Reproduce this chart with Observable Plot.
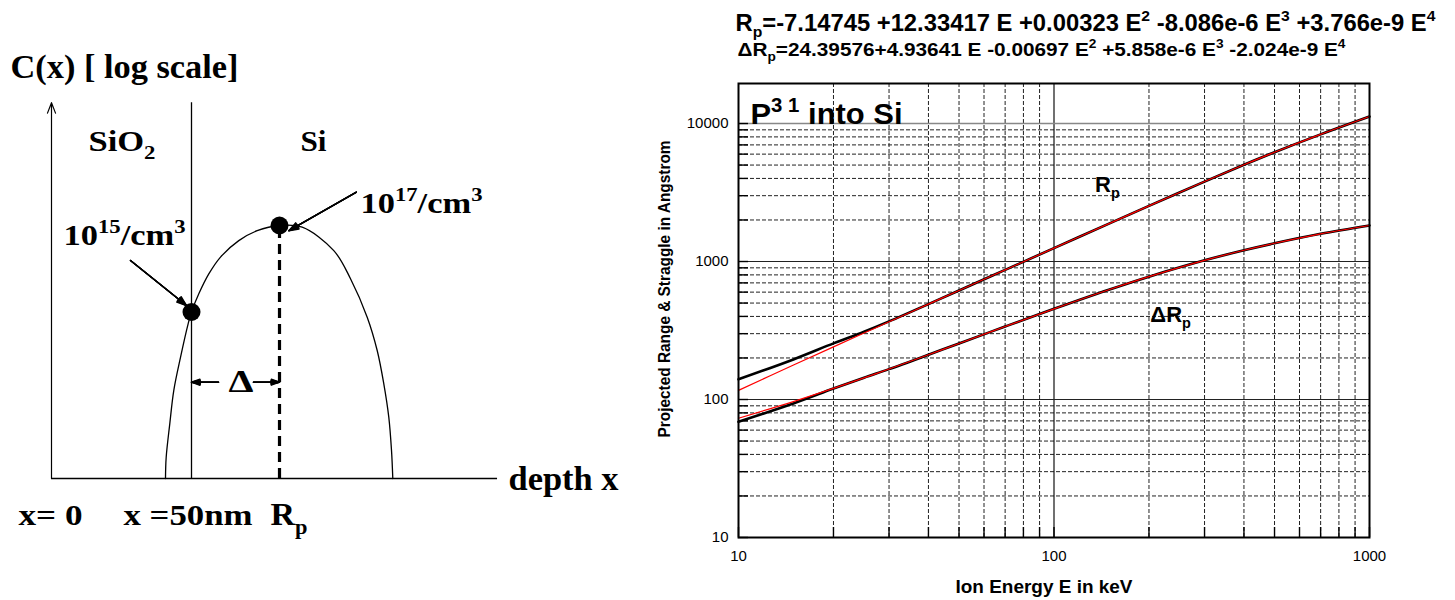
<!DOCTYPE html>
<html><head><meta charset="utf-8">
<script src="https://cdn.jsdelivr.net/npm/d3@7"></script>
<script src="https://cdn.jsdelivr.net/npm/@observablehq/plot@0.6"></script>
<style>
body{margin:0;background:#fff}
#wrap{position:relative;width:1455px;height:600px;overflow:hidden}
#left{position:absolute;left:0;top:0}
#right{position:absolute;left:640px;top:0}
</style>
</head><body>
<div id="wrap"><div id="left"></div><div id="right"></div></div>
<script>
// ================= LEFT: schematic implant profile =================
// depth in nm (x = 0 at surface, oxide/silicon interface at 50 nm), concentration as log10(C)
const profileDepth = [40.71, 40.96, 42.25, 43.68, 46.07, 48.82, 50.00, 52.61, 56.18, 60.36, 66.89, 73.46, 81.43, 89.54, 100.82, 106.79, 112.75, 116.32, 118.68, 120.46, 121.43, 121.89];
const profileLogC  = [11.15, 11.64, 12.42, 13.19, 13.95, 14.73, 15.00, 15.42, 15.88, 16.27, 16.65, 16.88, 17.00, 16.96, 16.42, 15.77, 14.88, 14.11, 13.34, 12.57, 11.80, 11.15];
const dotDepth = [50, 81.43];
const dotLogC = [15, 17];
const baseLogC = 11.15;
const topLogC = 19.84;
const axisEndDepth = 159.3;
const interfaceDepth = 50;
const rpDepth = 81.43;
const pointerFromDepth = [28.21, 108.9];
const pointerFromLogC  = [16.19, 17.77];
const pointerToDepth   = [48.21, 84.8];
const pointerToLogC    = [15.15, 16.88];
const deltaFromDepth = [59.64, 72.14];
const deltaToDepth   = [50, 81.43];
const deltaLogC = 13.377;
const diagramLabels = ["C(x) [ log scale]", "SiO_{2}", "Si", "10^{15}/cm^{3}", "10^{17}/cm^{3}", "depth x", "x= 0", "x =50nm", "R_{p}", "Δ"];
const labelDepth = [-14.64, 13.21, 88.93, 4.29, 110.36, 163.21, -11.79, 25.71, 78.21, 63.21];
const labelLogC  = [20.42, 18.73, 18.73, 16.54, 17.30, 10.873, 10.064, 10.064, 10.064, 13.139];

// ================= RIGHT: range / straggle vs energy =================
const energy = [10, 15, 20, 25, 30, 40, 50, 70, 100, 150, 200, 300, 400, 500, 700, 1000];
const rpSim  = [140, 196, 255, 310, 368, 491, 617, 869, 1251, 1890, 2530, 3796, 5022, 6192, 8340, 11237];
const rpFit  = [116.5, 178.6, 240.8, 303.1, 365.6, 490.9, 616.7, 869.4, 1250.9, 1890.3, 2530.2, 3796.0, 5022.2, 6192.1, 8340.2, 11237.0];
const drpSim = [69, 94, 120, 144, 166, 211, 255, 338, 454, 627, 777, 1020, 1207, 1356, 1588, 1825];
const drpFit = [73.1, 96.9, 120.4, 143.5, 166.4, 211.1, 254.5, 337.8, 454.0, 626.8, 776.5, 1019.8, 1206.9, 1355.9, 1587.9, 1824.8];
const xMajor = [10, 100, 1000];
const xMinor = [20, 30, 40, 50, 60, 70, 80, 90, 200, 300, 400, 500, 600, 700, 800, 900];
const yMajor = [10, 100, 1000, 10000];
const yMinor = [20, 30, 40, 50, 60, 70, 80, 90, 200, 300, 400, 500, 600, 700, 800, 900, 2000, 3000, 4000, 5000, 6000, 7000, 8000, 9000];
const title1 = "R_{p}=-7.14745 +12.33417 E +0.00323 E^{2} -8.086e-6 E^{3} +3.766e-9 E^{4}";
const title2 = "ΔR_{p}=24.39576+4.93641 E -0.00697 E^{2} +5.858e-6 E^{3} -2.024e-9 E^{4}";
const panelLabel = "P^{3 1} into Si";
const yLabel = "Projected Range & Straggle in Angstrom";
const xLabel = "Ion Energy E in keV";
const curveLabels = ["R_{p}", "ΔR_{p}"];
const curveLabelE = [135, 202];
const curveLabelV = [3190, 363];

// ---- styles (sizes in px) ----
const leftFont = {"C(x) [ log scale]": 33, "SiO_{2}": 30, "Si": 30, "10^{15}/cm^{3}": 30, "10^{17}/cm^{3}": 29,
  "depth x": 34, "x= 0": 30, "x =50nm": 30, "R_{p}": 32, "Δ": 32};
const fitWidth = {"C(x) [ log scale]": 228, "SiO_{2}": 67, "Si": 26, "10^{15}/cm^{3}": 122, "10^{17}/cm^{3}": 122,
  "depth x": 110, "x= 0": 64, "x =50nm": 129, "R_{p}": 37, "Δ": 25};
const fitWidthRight = {[title1]: 700, [title2]: 608, [panelLabel]: 152, [yLabel]: 297, [xLabel]: 177};

const idx = a => a.map((_, i) => i);
const headAngles = [40, 30, 20, 10];

const left = Plot.plot({
  width: 640, height: 600, margin: 0,
  x: {axis: null, domain: [0, 50], range: [51, 191]},
  y: {axis: null, domain: [15, 17], range: [311.5, 225]},
  style: {fontFamily: "'Liberation Serif','Times New Roman',serif", background: "white", overflow: "visible", color: "black"},
  marks: [
    Plot.ruleY([baseLogC], {x1: 0, x2: axisEndDepth, stroke: "black", strokeWidth: 1.3}),
    Plot.arrow([0], {x1: 0, y1: baseLogC, x2: 0, y2: topLogC, stroke: "black", strokeWidth: 1.2, headLength: 14, headAngle: 42}),
    Plot.ruleX([interfaceDepth], {y1: baseLogC, y2: topLogC, stroke: "black", strokeWidth: 1.3}),
    Plot.ruleX([rpDepth], {y1: baseLogC, y2: 17, stroke: "black", strokeWidth: 3.2, strokeDasharray: "10,6"}),
    Plot.line(idx(profileDepth), {x: profileDepth, y: profileLogC, curve: "catmull-rom", stroke: "black", strokeWidth: 1.3}),
    Plot.dot(idx(dotDepth), {x: dotDepth, y: dotLogC, r: 9, fill: "black"}),
    ...headAngles.map(a => Plot.arrow(idx(pointerFromDepth), {x1: pointerFromDepth, y1: pointerFromLogC, x2: pointerToDepth, y2: pointerToLogC,
      stroke: "black", strokeWidth: 1.4, headLength: 11, headAngle: a})),
    ...headAngles.map(a => Plot.arrow(idx(deltaFromDepth), {x1: deltaFromDepth, y1: deltaLogC, x2: deltaToDepth, y2: deltaLogC,
      stroke: "black", strokeWidth: 1.4, headLength: 10, headAngle: a})),
    Plot.text(idx(diagramLabels), {x: labelDepth, y: labelLogC, text: diagramLabels, fontSize: diagramLabels.map(l => leftFont[l]),
      textAnchor: "start", lineAnchor: "bottom", fontWeight: "bold", fill: "black"})
  ]
});

const right = Plot.plot({
  width: 815, height: 600, marginLeft: 98, marginRight: 86, marginTop: 83, marginBottom: 63,
  x: {type: "log", domain: [10, 1000]},
  y: {type: "log", domain: [10, 19500]},
  style: {fontFamily: "'Liberation Sans', Arial, sans-serif", fontSize: "14px", background: "white", overflow: "visible", color: "black"},
  marks: [
    Plot.ruleX(xMinor, {stroke: "#222", strokeDasharray: "4,2", strokeWidth: 1}),
    Plot.ruleY(yMinor, {stroke: "#222", strokeDasharray: "4,2", strokeWidth: 1}),
    Plot.ruleX([100], {stroke: "#111", strokeWidth: 1.2}),
    Plot.ruleY([100, 1000], {stroke: "#222", strokeWidth: 1.2}),
    Plot.ruleY([10000], {stroke: "#888", strokeWidth: 1.6}),
    Plot.ruleY(yMinor.concat(yMajor), {insetRight: 621, stroke: "black", strokeWidth: 1.4}),
    Plot.ruleX(xMinor.concat(xMajor), {insetTop: 444, stroke: "black", strokeWidth: 1.4}),
    Plot.line(energy, {x: energy, y: rpSim, stroke: "black", strokeWidth: 2.6, curve: "catmull-rom"}),
    Plot.line(energy, {x: energy, y: drpSim, stroke: "black", strokeWidth: 2.6, curve: "catmull-rom"}),
    Plot.line(energy, {x: energy, y: rpFit, stroke: "#ff0000", strokeWidth: 1.2, curve: "catmull-rom"}),
    Plot.line(energy, {x: energy, y: drpFit, stroke: "#ff0000", strokeWidth: 1.2, curve: "catmull-rom"}),
    Plot.frame({stroke: "black", strokeWidth: 2}),
    Plot.axisY({ticks: yMajor, tickSize: 0, tickPadding: 10, tickFormat: d => String(d), label: null, fontSize: 15}),
    Plot.axisX({ticks: xMajor, tickSize: 0, tickPadding: 13, tickFormat: d => String(d), label: null, fontSize: 15}),
    Plot.text(idx(curveLabels), {x: curveLabelE, y: curveLabelV, text: curveLabels, textAnchor: "start", lineAnchor: "bottom", fontSize: 22, fontWeight: "bold"}),
    Plot.text([panelLabel], {text: d => d, frameAnchor: "top-left", dx: 12, dy: 40, textAnchor: "start", lineAnchor: "bottom", fontSize: 30, fontWeight: "bold"}),
    Plot.text([title1], {text: d => d, frameAnchor: "top-left", dx: -3, dy: -53, textAnchor: "start", lineAnchor: "bottom", fontSize: 23, fontWeight: "bold"}),
    Plot.text([title2], {text: d => d, frameAnchor: "top-left", dx: -1, dy: -28, textAnchor: "start", lineAnchor: "bottom", fontSize: 19, fontWeight: "bold"}),
    Plot.text([yLabel], {text: d => d, frameAnchor: "left", rotate: -90, dx: -69, dy: -21.5, textAnchor: "middle", lineAnchor: "bottom", fontSize: 17, fontWeight: "bold"}),
    Plot.text([xLabel], {text: d => d, frameAnchor: "bottom", dx: -10, dy: 55, textAnchor: "middle", lineAnchor: "bottom", fontSize: 19, fontWeight: "bold"})
  ]
});

document.getElementById("left").appendChild(left);
document.getElementById("right").appendChild(right);

// rich text: ^{...} superscript, _{...} subscript; optional fitted width
function rich(svg, fits) {
  const NS = "http://www.w3.org/2000/svg";
  svg.querySelectorAll("text").forEach(t => {
    const s = t.textContent;
    if (/[\^_]\{/.test(s)) {
      const fs = parseFloat(getComputedStyle(t).fontSize) || 16;
      while (t.firstChild) t.removeChild(t.firstChild);
      let shift = 0, last = 0, m;
      const re = /([\^_])\{([^}]*)\}/g;
      const add = (str, mode) => {
        if (!str) return;
        const ts = document.createElementNS(NS, "tspan");
        const target = mode === "sup" ? -0.40 * fs : mode === "sub" ? 0.28 * fs : 0;
        if (target - shift !== 0) ts.setAttribute("dy", target - shift);
        shift = target;
        if (mode) ts.setAttribute("font-size", 0.66 * fs);
        ts.textContent = str;
        t.appendChild(ts);
      };
      while ((m = re.exec(s))) {
        add(s.slice(last, m.index), null);
        add(m[2], m[1] === "^" ? "sup" : "sub");
        last = re.lastIndex;
      }
      add(s.slice(last), null);
    }
    if (fits[s]) {
      t.setAttribute("textLength", fits[s]);
      t.setAttribute("lengthAdjust", "spacingAndGlyphs");
    }
  });
}
rich(left, fitWidth);
rich(right, fitWidthRight);
</script>
</body></html>
